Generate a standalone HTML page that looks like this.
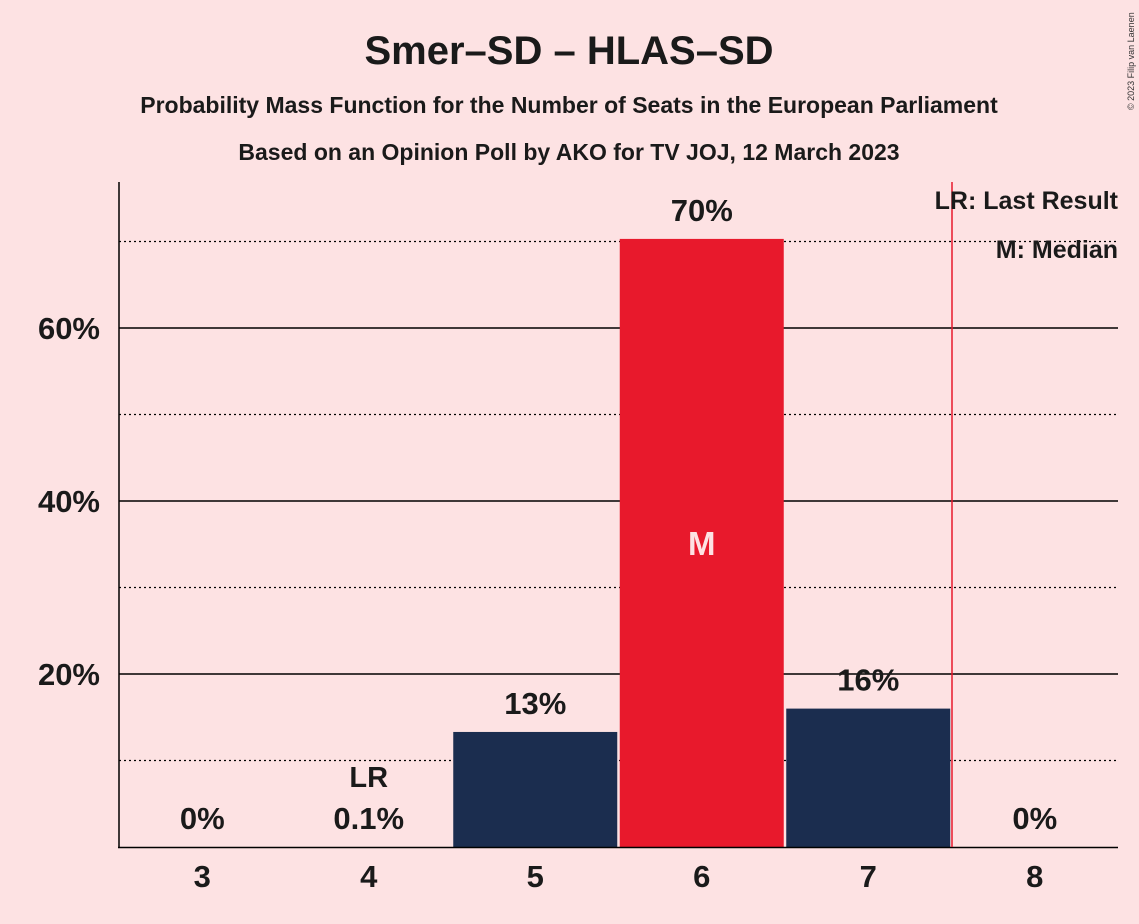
<!DOCTYPE html>
<html><head><meta charset="utf-8">
<style>
body{margin:0;background:#fde2e3;}
svg{display:block;font-family:"Liberation Sans",sans-serif;}
</style></head>
<body>
<svg id="chart" width="1139" height="924" viewBox="0 0 1139 924">
<rect width="1139" height="924" fill="#fde2e3"/>
<text x="569" y="64" text-anchor="middle" font-size="40" font-weight="bold" fill="#1a1a1a">Smer–SD – HLAS–SD</text>
<text x="569" y="113" text-anchor="middle" font-size="23" font-weight="bold" fill="#1a1a1a">Probability Mass Function for the Number of Seats in the European Parliament</text>
<text x="569" y="160" text-anchor="middle" font-size="23" font-weight="bold" fill="#1a1a1a">Based on an Opinion Poll by AKO for TV JOJ, 12 March 2023</text>
<text x="1134" y="110" font-size="9" fill="#333" transform="rotate(-90 1134 110)">© 2023 Filip van Laenen</text>
<g id="grid"></g>
<g id="bars"></g>
<line x1="119" y1="182" x2="119" y2="848" stroke="#000" stroke-width="1.5"/>
<line x1="118" y1="847.5" x2="1118" y2="847.5" stroke="#000" stroke-width="1.5"/>
<line x1="952" y1="182" x2="952" y2="847" stroke="#e8192c" stroke-width="1.5"/>
<text x="1118" y="209" text-anchor="end" font-size="25" font-weight="bold" fill="#1a1a1a">LR: Last Result</text>
<text x="1118" y="258" text-anchor="end" font-size="25" font-weight="bold" fill="#1a1a1a">M: Median</text>
</svg>
<script>
const categories=[3,4,5,6,7,8];
const values=[0,0.1,13.3,70.3,16.0,0];
const valueLabels=["0%","0.1%","13%","70%","16%","0%"];
const yTicks=[20,40,60];
const yMinor=[10,30,50,70];
const medianSeat=6;
const lastResultSeat=4;
const svgNS="http://www.w3.org/2000/svg";
const X0=119,step=166.5,Y0=847,pxPer=8.65;
const xc=i=>X0+step*(i+0.5);
const y=v=>Y0-v*pxPer;
const grid=document.getElementById('grid'),bars=document.getElementById('bars');
function mk(tag,attrs,parent){const e=document.createElementNS(svgNS,tag);for(const k in attrs)e.setAttribute(k,attrs[k]);parent.appendChild(e);return e;}
yMinor.forEach(t=>{const l=mk('line',{x1:119,x2:1118,y1:y(t),y2:y(t),stroke:'#000','stroke-width':1.2,'stroke-dasharray':'2,3'},grid);

});
yTicks.forEach(t=>{const l=mk('line',{x1:119,x2:1118,y1:y(t),y2:y(t),stroke:'#000','stroke-width':1.5},grid);


const tx=mk('text',{x:100,y:y(t)+11,'text-anchor':'end','font-size':31,'font-weight':'bold',fill:'#1a1a1a'},grid);tx.textContent=t+'%';

});
categories.forEach((c,i)=>{
 const med=c===medianSeat;
 if(values[i]>0.5){const r=mk('rect',{x:xc(i)-82,y:y(values[i]),width:164,height:Y0-y(values[i]),fill:med?'#e8192c':'#1b2d4f'},bars);
 
 }
 const ly=values[i]>5?y(values[i])-18:Y0-18;
 const lb=mk('text',{x:xc(i),y:ly,'text-anchor':'middle','font-size':31,'font-weight':'bold',fill:'#1a1a1a'},bars);lb.textContent=valueLabels[i];
 
 
 const xt=mk('text',{x:xc(i),y:887,'text-anchor':'middle','font-size':31,'font-weight':'bold',fill:'#1a1a1a'},bars);xt.textContent=c;
 
 
 if(med){const m=mk('text',{x:xc(i),y:(y(values[i])+Y0)/2+12,'text-anchor':'middle','font-size':33,'font-weight':'bold',fill:'#fde2e3'},bars);m.textContent='M';
 
 }
 if(c===lastResultSeat){const m=mk('text',{x:xc(i),y:ly-42,'text-anchor':'middle','font-size':29,'font-weight':'bold',fill:'#1a1a1a'},bars);m.textContent='LR';
 
 }
});
</script>
</body></html>
